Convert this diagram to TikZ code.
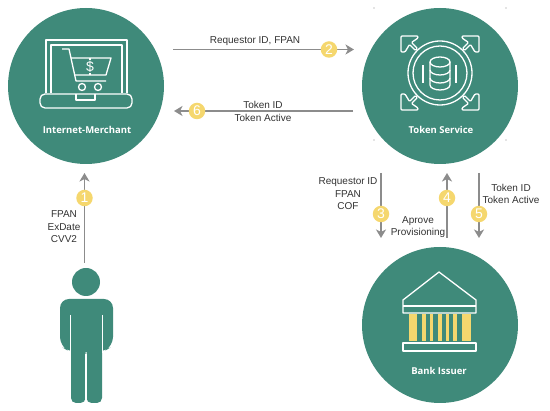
\documentclass[tikz,border=0pt]{standalone}
\usepackage{fontspec}
\setmainfont{Liberation Sans}
\newfontfamily\titlefont{Open Sans}
\usetikzlibrary{arrows.meta,positioning,calc}
\definecolor{teal}{RGB}{63,138,122}
\definecolor{sand}{RGB}{245,215,110}
\definecolor{flowgray}{RGB}{140,140,140}
\definecolor{inkgray}{RGB}{50,50,50}
\tikzset{
    party/.style={
        circle,
        fill=teal,
        minimum size=156pt,
        inner sep=0pt
    },
    partyname/.style={
        text=white,
        font=\titlefont\bfseries\fontsize{9.5}{11}\selectfont
    },
    flow/.style={
        -{Stealth[length=8.5pt,width=10pt,inset=2.5pt]},
        draw=flowgray,
        line width=1.5pt
    },
    badge/.style={
        circle,
        fill=sand,
        text=white,
        minimum size=16.5pt,
        inner sep=0pt,
        font=\fontsize{14}{14}\selectfont
    },
    note/.style={
        align=center,
        text=inkgray,
        inner sep=0pt,
        font=\fontsize{10}{12.5}\selectfont
    },
    icon/.style={
        draw=white,
        line width=1.3pt,
        line join=round
    }
}
\begin{document}
\begin{tikzpicture}[x=1pt,y=-1pt]
\useasboundingbox (0,0) rectangle (550,411);

% Parties
\node[party] (merchant) at (86,86) {};
\node[party] (token) at (440,86) {};
\node[party] (issuer) at (440,325) {};
\node[partyname] (merchant-name) at (87,130) {Internet-Merchant};
\node[partyname] (token-name) at (441,130) {Token Service};
\node[partyname] (issuer-name) at (439,371) {Bank Issuer};

% Laptop with cart
\draw[icon] (46,93) -- (46,40) -- (127,40) -- (127,93);
\draw[icon] (51,93) -- (51,45) -- (122,45) -- (122,93);
\draw[icon, rounded corners=5pt] (40,94) -- (132,94) -- (132,108) -- (40,108) -- cycle;
\draw[icon] (76,94) -- (76,100) -- (95,100) -- (95,94);
\draw[icon] (62,49) -- (69,49) -- (76,81) -- (106,81);
\draw[icon] (71,58) -- (111,58) -- (106,75) -- (74,75);
\draw[icon] (82,87) circle (3.5);
\draw[icon] (98,87) circle (3.5);
\draw[icon] (90,58) -- (90,60) (90,73) -- (90,75);
\node[text=white, inner sep=0pt, font=\fontsize{14}{14}\selectfont] (dollar) at (90,66.5) {\$};

% Database with arrows
\draw[icon] (440,73) circle (32);
\draw[icon] (440,73) circle (27);
\draw[icon] (430,62) -- (430,85) arc[start angle=180, end angle=360, x radius=10, y radius=-5] -- (450,62);
\draw[icon] (440,62) ellipse (10 and 5);
\draw[icon] (430,70) arc[start angle=180, end angle=360, x radius=10, y radius=-5];
\draw[icon] (430,78) arc[start angle=180, end angle=360, x radius=10, y radius=-5];
\draw[icon] (423,65) -- (423,83);
\draw[icon] (456,65) -- (456,83);
\foreach \sx/\sy in {1/1,-1/1,1/-1,-1/-1}
    \draw[icon, rounded corners=1pt, shift={(440,73)}, xscale=\sx, yscale=\sy]
        (-39,-37) -- (-22,-37) -- (-22,-35) -- (-28.5,-30.5) -- (-22.5,-24.5)
        -- (-24.5,-22.5) -- (-30.5,-28.5) -- (-35,-21) -- (-39,-21) -- cycle;

% Bank
\foreach \xa/\xb in {409/417,422/426,430/433,438/442,446/449,453/457,462/471}
    \fill[sand] (\xa,314) rectangle (\xb,341);
\draw[icon] (439,272) -- (476,300) -- (476,313) -- (403,313) -- (403,300) -- cycle;
\draw[icon] (403,306) -- (476,306);
\draw[icon] (403,343) rectangle (476,351);

% Customer
\fill[teal] (86,282) circle (14);
\fill[teal, rounded corners=9pt] (70,352) -- (60,346) -- (60,299) -- (113,299) -- (113,346) -- (103,352) -- cycle;
\fill[teal, rounded corners=5pt] (71,340) rectangle (85.5,403);
\fill[teal, rounded corners=5pt] (86.5,340) rectangle (102,403);
\draw[white, line width=1.2pt] (70.5,315) -- (70.5,353) (102.5,315) -- (102.5,353) (86,354) -- (86,404);

% Flows
\coordinate (one-start) at (84.5,263);
\coordinate (one-end) at (84.5,173);
\coordinate (two-start) at (173,49.5);
\coordinate (two-end) at (354,49.5);
\coordinate (six-start) at (353,111);
\coordinate (six-end) at (174,111);
\coordinate (three-start) at (381,173);
\coordinate (three-end) at (381,238);
\coordinate (four-start) at (447,238);
\coordinate (four-end) at (447,173);
\coordinate (five-start) at (479,173);
\coordinate (five-end) at (479,238);
\draw[flow] (one-start) -- (one-end);
\draw[flow] (two-start) -- (two-end);
\draw[flow] (six-start) -- (six-end);
\draw[flow] (three-start) -- (three-end);
\draw[flow] (four-start) -- (four-end);
\draw[flow] (five-start) -- (five-end);

% Badges
\node[badge] (badge-one) at (84.5,198) {1};
\node[badge] (badge-two) at (329,49.5) {2};
\node[badge] (badge-three) at (381,214) {3};
\node[badge] (badge-four) at (447,198) {4};
\node[badge] (badge-five) at (479,214) {5};
\node[badge] (badge-six) at (197,111) {6};

% Notes
\node[note] (note-one) at (64,227) {FPAN\\ExDate\\CVV2};
\node[note] (note-two) at (255,41) {Requestor ID, FPAN};
\node[note] (note-three) at (348,194) {Requestor ID\\FPAN\\COF};
\node[note] (note-four) at (418,227) {Aprove\\Provisioning};
\node[note] (note-five) at (511,194) {Token ID\\Token Active};
\node[note] (note-six) at (263,111.5) {Token ID\\Token Active};

% Handles
\foreach \hx/\hy in {374/8,506/8,374/140,506/140}
    \fill[flowgray] (\hx,\hy) circle (0.6);
\end{tikzpicture}
\end{document}
